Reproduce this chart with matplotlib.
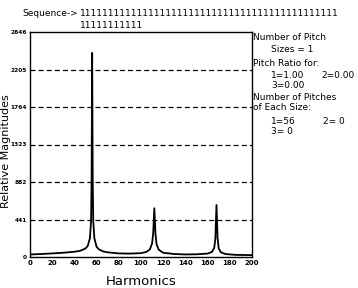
import matplotlib
matplotlib.use("Agg")
import matplotlib.pyplot as plt

# Data
harmonics = [0, 10, 20, 30, 40, 45, 50, 52, 54, 55, 55.5, 56, 56.5, 57, 58, 60, 62, 66, 70,
             80, 90, 100, 105, 108, 110, 111, 112, 113, 114, 116, 120, 130, 140, 150,
             160, 164, 166, 167, 168, 169, 170, 172, 176, 185, 200]
magnitudes = [30, 35, 42, 50, 62, 72, 100, 130, 220, 420, 900, 2400, 900, 420, 220, 120, 90, 65, 55,
              42, 40, 45, 60, 90, 160, 280, 573, 280, 150, 85, 50, 35, 30, 32,
              40, 60, 110, 220, 611, 220, 100, 55, 35, 25, 22]
y_ticks = [0, 441, 882, 1323, 1764, 2205, 2646]
x_ticks = [0, 20, 40, 60, 80, 100, 120, 140, 160, 180, 200]
sequence_line1 = "1" * 45
sequence_line2 = "1" * 11
info_items = [
    (253, 38, "Number of Pitch"),
    (271, 50, "Sizes = 1"),
    (253, 63, "Pitch Ratio for:"),
    (271, 76, "1=1.00"), (321, 76, "2=0.00"),
    (271, 86, "3=0.00"),
    (253, 98, "Number of Pitches"),
    (253, 108, "of Each Size:"),
    (271, 121, "1=56"), (323, 121, "2= 0"),
    (271, 132, "3= 0"),
]

W, H = 358, 288
fig = plt.figure(figsize=(W/100, H/100), dpi=100)
ax = fig.add_axes([30/W, 1-257/H, 222/W, 225/H])
ax.plot(harmonics, magnitudes, color="black", lw=1.3)
ax.set_xlim(0, 200)
ax.set_ylim(0, 2646)
for v in y_ticks[1:-1]:
    ax.axhline(v, color="black", lw=0.9, dashes=(4, 2.5))
ax.set_xticks(x_ticks)
ax.set_yticks(y_ticks)
ax.set_xticklabels([str(t) for t in x_ticks], fontsize=5, fontweight="bold")
ax.set_yticklabels([str(t) for t in y_ticks], fontsize=4.2, fontweight="bold")
ax.tick_params(length=0, pad=2)
for s in ax.spines.values():
    s.set_linewidth(1.0)
ax.set_xlabel("Harmonics", fontsize=9.5)
ax.xaxis.set_label_coords(0.5, -0.08)
ax.set_ylabel("Relative Magnitudes", fontsize=8)
ax.yaxis.set_label_coords(-0.087, 0.47)

fig.text(22/W, 1-13/H, "Sequence->", fontsize=6.5, va="center", ha="left")
fig.text(80/W, 1-13/H, sequence_line1, fontsize=6.5, va="center", ha="left")
fig.text(80/W, 1-25/H, sequence_line2, fontsize=6.5, va="center", ha="left")

for x, y, s in info_items:
    fig.text(x/W, 1-y/H, s, fontsize=6.5, va="center", ha="left")

fig.savefig("out.png", dpi=100)
